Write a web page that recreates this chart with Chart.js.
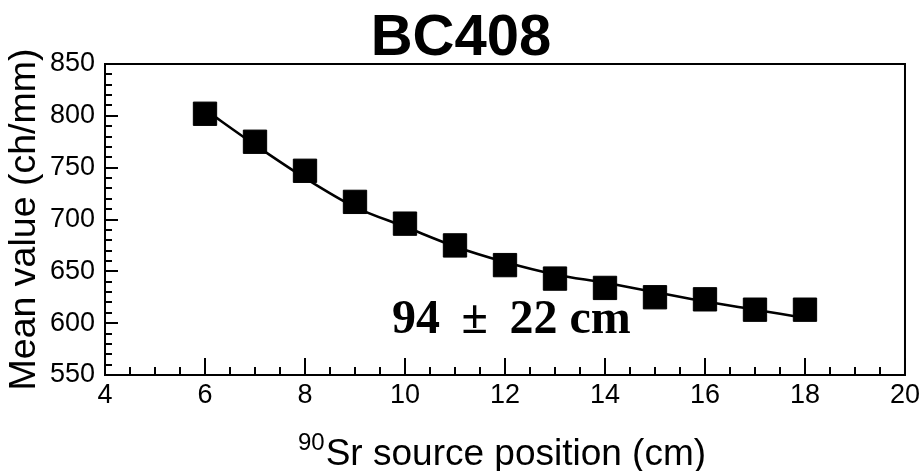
<!DOCTYPE html>
<html>
<head>
<meta charset="utf-8">
<script src="https://cdn.jsdelivr.net/npm/chart.js@4.4.0/dist/chart.umd.min.js"></script>
<style>
  html, body { margin: 0; padding: 0; background: #fff; }
  #wrap { width: 924px; height: 471px; }
</style>
</head>
<body>
<div id="wrap"><canvas id="bc408Chart" width="924" height="471"></canvas></div>
<script>
// 90Sr source position along the bar (cm)
const positions = [6, 7, 8, 9, 10, 11, 12, 13, 14, 15, 16, 17, 18];
// measured mean value (ch/mm)
const meanValues = [802, 775, 747, 717, 696, 675, 656, 643, 634, 625, 623, 613, 613];
// fitted attenuation curve at the same positions
const fitValues = [806, 772, 740, 712, 693, 674, 659, 647, 639, 630, 621, 613, 605];

const xTicks = [4, 6, 8, 10, 12, 14, 16, 18, 20];
const yTicks = [550, 600, 650, 700, 750, 800, 850];

const chartTitle = 'BC408';
const yTitle = 'Mean value (ch/mm)';
const xTitleSup = '90';
const xTitleMain = 'Sr source position (cm)';
const fitLabel = '94 \u2009\u00B1 \u200922 cm';
const fitLabelAt = { x: 9.74, y: 590.5 };

const SANS = "'Liberation Sans', Arial, sans-serif";
const SERIF = "'Liberation Serif', 'Times New Roman', serif";

// title, frame, inward ticks, x title with superscript and the fit label
const framePlugin = {
    id: 'frame',
    afterDraw(chart) {
        const { ctx, chartArea: a, scales: { x, y } } = chart;
        ctx.save();
        ctx.fillStyle = '#000';
        ctx.textBaseline = 'alphabetic';

        ctx.textAlign = 'center';
        ctx.font = 'bold 58px ' + SANS;
        ctx.fillText(chartTitle, 461, 55);

        ctx.strokeStyle = '#000';
        ctx.lineWidth = 2;
        ctx.strokeRect(a.left, a.top, a.right - a.left, a.bottom - a.top);

        ctx.beginPath();
        for (let v = 4; v <= 20; v += 0.5) {
            const px = Math.round(x.getPixelForValue(v));
            const len = v % 2 === 0 ? 17 : 8;
            ctx.moveTo(px, a.bottom);
            ctx.lineTo(px, a.bottom - len);
        }
        for (let v = 550; v <= 850; v += 10) {
            const py = Math.round(y.getPixelForValue(v));
            const len = v % 50 === 0 ? 13 : 7;
            ctx.moveTo(a.left, py);
            ctx.lineTo(a.left + len, py);
        }
        ctx.stroke();

        // x axis title: superscript mass number then the text
        ctx.textAlign = 'left';
        ctx.font = '24px ' + SANS;
        const supW = ctx.measureText(xTitleSup).width;
        ctx.font = '37px ' + SANS;
        const mainW = ctx.measureText(xTitleMain).width;
        const startX = 298;
        ctx.font = '24px ' + SANS;
        ctx.fillText(xTitleSup, startX, 450);
        ctx.font = '37px ' + SANS;
        ctx.fillText(xTitleMain, startX + supW + 1, 465);

        // fit result
        ctx.font = 'bold 48px ' + SERIF;
        ctx.fillText(fitLabel, x.getPixelForValue(fitLabelAt.x), y.getPixelForValue(fitLabelAt.y));
        ctx.restore();
    }
};

const ctx = document.getElementById('bc408Chart').getContext('2d');

new Chart(ctx, {
    type: 'scatter',
    data: {
        datasets: [
            {
                label: 'Data',
                data: positions.map((p, i) => ({ x: p, y: meanValues[i] })),
                pointStyle: 'rect',
                pointRadius: 16.5,
                pointBorderWidth: 1,
                pointBackgroundColor: '#000',
                pointBorderColor: '#000',
                showLine: false,
                order: 0,
            },
            {
                label: 'Fit',
                data: positions.map((p, i) => ({ x: p, y: fitValues[i] })),
                showLine: true,
                borderColor: '#000',
                borderWidth: 2.5,
                pointRadius: 0,
                cubicInterpolationMode: 'monotone',
                fill: false,
                order: 1,
            }
        ]
    },
    options: {
        responsive: false,
        animation: false,
        events: [],
        layout: {
            padding: { left: 0, right: 18, top: 64, bottom: 0 }
        },
        plugins: {
            legend: { display: false },
            tooltip: { enabled: false },
            title: { display: false }
        },
        scales: {
            x: {
                type: 'linear',
                min: 4,
                max: 20,
                afterBuildTicks: scale => { scale.ticks = xTicks.map(v => ({ value: v })); },
                afterFit: scale => { scale.height = 96; },
                grid: { display: false, drawTicks: false },
                border: { display: false },
                ticks: {
                    color: '#000',
                    font: { family: SANS, size: 27 },
                    padding: 4,
                    maxRotation: 0,
                    autoSkip: false,
                },
            },
            y: {
                type: 'linear',
                min: 550,
                max: 850,
                afterBuildTicks: scale => { scale.ticks = yTicks.map(v => ({ value: v })); },
                afterFit: scale => { scale.width = 105; },
                grid: { display: false, drawTicks: false },
                border: { display: false },
                ticks: {
                    color: '#000',
                    font: { family: SANS, size: 27 },
                    padding: 10,
                },
                title: {
                    display: true,
                    text: yTitle,
                    color: '#000',
                    font: { family: SANS, size: 37.5 },
                    padding: { top: 2, bottom: 0 },
                }
            }
        }
    },
    plugins: [framePlugin]
});
</script>
</body>
</html>
